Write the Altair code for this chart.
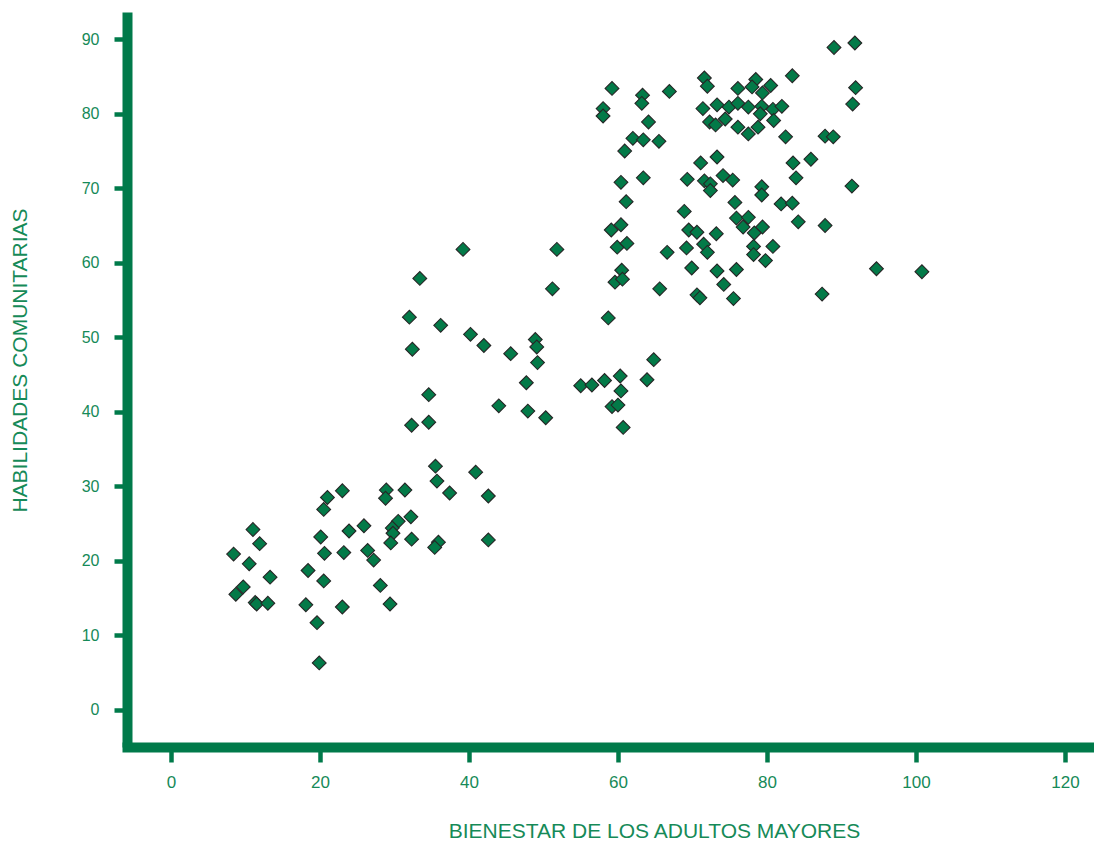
import altair as alt
import pandas as pd

# Bienestar de los adultos mayores (x) vs Habilidades comunitarias (y)
bienestar = [
    35.5, 40.9, 35.7, 37.4, 42.6, 23.0, 21.0, 20.5, 28.9, 28.8, 31.4, 32.2, 30.5, 29.7, 29.8,
    29.5, 32.3, 25.9, 23.9, 20.1, 20.6, 23.2, 26.4, 27.2, 35.9, 35.4, 42.6, 11.0, 11.9, 8.4,
    10.5, 13.3, 18.4, 20.5, 28.1, 9.7, 8.7, 11.3, 11.5, 13.0, 18.1, 23.0, 29.4, 19.6, 19.9,
    39.2, 51.8, 33.4, 51.2, 32.0, 36.2, 40.2, 42.0, 32.4, 45.6, 48.9, 49.1, 49.2, 47.7, 55.0,
    56.5, 34.6, 44.0, 47.9, 50.3, 32.3, 34.6,
    61.1, 68.9, 75.7, 75.9, 60.4, 59.1, 59.9, 61.2, 69.5, 70.6, 73.2, 69.2, 71.5, 72.0, 66.6,
    69.9, 73.3, 75.9, 74.2, 75.5, 70.6, 71.0, 60.5, 59.6, 60.6, 65.6, 58.7, 64.8, 63.9, 58.2,
    60.3, 60.4, 59.2, 60.0, 60.7,
    59.2, 63.3, 66.9, 71.6, 72.0, 58.0, 58.0, 63.2, 71.4, 73.3, 74.9, 72.3, 73.1, 74.4, 64.1,
    62.0, 63.4, 65.5, 60.9, 71.1, 73.3, 60.4, 63.4, 69.3, 71.6, 72.4, 72.4, 74.1, 75.4,
    89.0, 91.8, 91.9, 91.5, 83.4, 78.5, 76.1, 78.0, 80.5, 79.4, 76.1, 77.5, 79.3, 80.8, 82.0,
    79.1, 80.9, 76.1, 77.5, 78.8, 82.5, 87.8, 88.9, 83.5, 85.9, 83.9, 91.4, 79.3, 79.3, 81.9,
    83.4, 77.5, 84.2, 87.8,
    79.4, 76.8, 78.3, 78.2, 80.8, 78.2, 79.8, 87.4, 94.7, 100.8,
]
habilidades = [
    32.7, 31.9, 30.7, 29.1, 28.7, 29.4, 28.5, 26.9, 29.5, 28.4, 29.5, 25.9, 25.3, 24.4, 23.7,
    22.4, 22.9, 24.7, 24.0, 23.2, 21.0, 21.1, 21.4, 20.1, 22.5, 21.8, 22.8, 24.2, 22.3, 20.9,
    19.6, 17.8, 18.7, 17.3, 16.7, 16.5, 15.5, 14.4, 14.2, 14.3, 14.1, 13.8, 14.2, 11.7, 6.3,
    61.8, 61.8, 57.9, 56.5, 52.7, 51.6, 50.4, 48.9, 48.4, 47.8, 49.7, 48.7, 46.6, 43.9, 43.5,
    43.6, 42.3, 40.8, 40.1, 39.2, 38.2, 38.6,
    68.2, 66.9, 68.1, 66.0, 65.1, 64.4, 62.1, 62.6, 64.4, 64.1, 63.9, 62.0, 62.5, 61.4, 61.4,
    59.3, 58.9, 59.1, 57.1, 55.2, 55.7, 55.3, 59.0, 57.4, 57.8, 56.5, 52.6, 47.0, 44.3, 44.2,
    44.8, 42.8, 40.7, 40.9, 37.9,
    83.4, 82.5, 83.0, 84.8, 83.7, 80.7, 79.7, 81.4, 80.7, 81.2, 80.9, 78.9, 78.5, 79.3, 78.9,
    76.7, 76.5, 76.3, 75.0, 73.4, 74.2, 70.8, 71.4, 71.2, 71.0, 70.6, 69.7, 71.7, 71.1,
    88.9, 89.5, 83.5, 81.3, 85.1, 84.6, 83.4, 83.6, 83.8, 82.8, 81.4, 80.9, 81.0, 80.6, 81.0,
    80.0, 79.1, 78.2, 77.3, 78.2, 76.9, 77.0, 76.9, 73.4, 73.9, 71.4, 70.3, 70.2, 69.1, 67.9,
    68.0, 66.1, 65.5, 65.0,
    64.8, 64.8, 64.0, 62.2, 62.2, 61.1, 60.3, 55.8, 59.2, 58.8,
]

x_ticks = [0, 20, 40, 60, 80, 100, 120]
y_ticks = [0, 10, 20, 30, 40, 50, 60, 70, 80, 90]

df = pd.DataFrame({"bienestar": bienestar, "habilidades": habilidades})

GREEN = "#007A4A"
TEXT = "#168A58"

chart = (
    alt.Chart(df)
    .mark_point(shape="diamond", filled=True, size=190, fill="#037A48",
                stroke="#262626", strokeWidth=1.1, opacity=1)
    .encode(
        x=alt.X(
            "bienestar:Q",
            scale=alt.Scale(domain=[-5.906, 123.9], nice=False, zero=False),
            axis=alt.Axis(
                values=x_ticks, grid=False, title="BIENESTAR DE LOS ADULTOS MAYORES",
                domainColor=GREEN, domainWidth=10, domainCap="square",
                tickColor=GREEN, tickWidth=4.5, tickSize=15,
                labelColor=TEXT, labelFontSize=17, labelFont="Liberation Sans",
                labelPadding=12,
                titleColor=TEXT, titleFontSize=21, titleFont="Liberation Sans",
                titleFontWeight="normal", titleAlign="center", titleAnchor="start",
                titleBaseline="alphabetic", titleX=527, titleY=90,
            ),
        ),
        y=alt.Y(
            "habilidades:Q",
            scale=alt.Scale(domain=[-4.99, 93.66], nice=False, zero=False),
            axis=alt.Axis(
                values=y_ticks, grid=False, title="HABILIDADES COMUNITARIAS",
                domainColor=GREEN, domainWidth=10, domainCap="butt",
                tickColor=GREEN, tickWidth=4.5, tickSize=13,
                labelColor=TEXT, labelFontSize=16, labelFont="Liberation Sans",
                labelPadding=15,
                titleColor=TEXT, titleFontSize=21, titleFont="Liberation Sans",
                titleFontWeight="normal", titleAlign="center", titleAnchor="start",
                titleBaseline="middle", titleAngle=270, titleX=-107, titleY=348,
            ),
        ),
    )
    .properties(
        width=967,
        height=735,
        autosize=alt.AutoSizeParams(type="none"),
        padding={"left": 119, "top": 4, "right": 0, "bottom": 96},
    )
    .configure(background="white")
    .configure_view(strokeWidth=0, strokeOpacity=0)
)

chart.save("out.html", embed_options={"renderer": "svg", "actions": False})
